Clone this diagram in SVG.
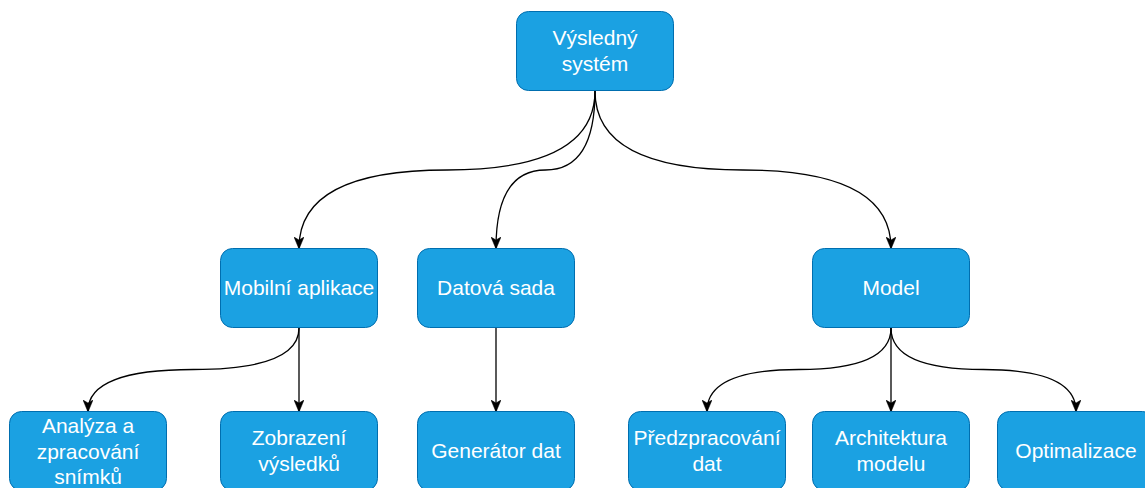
<svg xmlns="http://www.w3.org/2000/svg" width="1145" height="488" viewBox="0 0 1145 488">
<defs>
<style>
.node rect{fill:#1ba1e2;stroke:#006eaf;stroke-width:1}
.node text{fill:#ffffff;font-family:"Liberation Sans",Arial,Helvetica,sans-serif;font-size:21px;text-anchor:middle}
.edges path{fill:none;stroke:#000000;stroke-width:1.3;marker-end:url(#arr)}
</style>
<marker id="arr" viewBox="0 0 12 10" refX="11" refY="5" markerWidth="12" markerHeight="10" markerUnits="userSpaceOnUse" orient="auto">
<path d="M0,0 L12,5 L0,10 L3,5 Z" fill="#000000" stroke="#000000" stroke-width="0.5"/>
</marker>
</defs>
<rect width="1145" height="488" fill="#ffffff"/>
<g class="edges" id="edges">
<path d="M595 91 Q595 170 447 170 Q299 170 299 248"/>
<path d="M595 91 Q595 170 545.5 170 Q496 170 496 248"/>
<path d="M595 91 Q595 170 743 170 Q891 170 891 248"/>
<path d="M299 328 Q299 369.5 193.5 369.5 Q88 369.5 88 411"/>
<path d="M299 328 L299 411"/>
<path d="M496 328 L496 411"/>
<path d="M891 328 Q891 369.5 799 369.5 Q707 369.5 707 411"/>
<path d="M891 328 L891 411"/>
<path d="M891 328 Q891 369.5 983.5 369.5 Q1076 369.5 1076 411"/>
</g>
<g class="node" id="n-vysledny"><rect x="516.5" y="11.5" width="157" height="79" rx="12"/><text x="595" y="45">Výsledný</text><text x="595" y="71">systém</text></g>
<g class="node" id="n-mobilni"><rect x="220.5" y="248.5" width="157" height="79" rx="12"/><text x="299" y="295">Mobilní aplikace</text></g>
<g class="node" id="n-datova"><rect x="417.5" y="248.5" width="157" height="79" rx="12"/><text x="496" y="295">Datová sada</text></g>
<g class="node" id="n-model"><rect x="812.5" y="248.5" width="157" height="79" rx="12"/><text x="891" y="295">Model</text></g>
<g class="node" id="n-analyza"><rect x="9.5" y="411.5" width="157" height="79" rx="12"/><text x="88" y="433">Analýza a</text><text x="88" y="458.5">zpracování</text><text x="88" y="484">snímků</text></g>
<g class="node" id="n-zobrazeni"><rect x="220.5" y="411.5" width="157" height="79" rx="12"/><text x="299" y="445">Zobrazení</text><text x="299" y="471">výsledků</text></g>
<g class="node" id="n-generator"><rect x="417.5" y="411.5" width="157" height="79" rx="12"/><text x="496" y="458">Generátor dat</text></g>
<g class="node" id="n-predzpracovani"><rect x="628.5" y="411.5" width="157" height="79" rx="12"/><text x="707" y="445">Předzpracování</text><text x="707" y="471">dat</text></g>
<g class="node" id="n-architektura"><rect x="812.5" y="411.5" width="157" height="79" rx="12"/><text x="891" y="445">Architektura</text><text x="891" y="471">modelu</text></g>
<g class="node" id="n-optimalizace"><rect x="997.5" y="411.5" width="157" height="79" rx="12"/><text x="1076" y="458">Optimalizace</text></g>
</svg>
